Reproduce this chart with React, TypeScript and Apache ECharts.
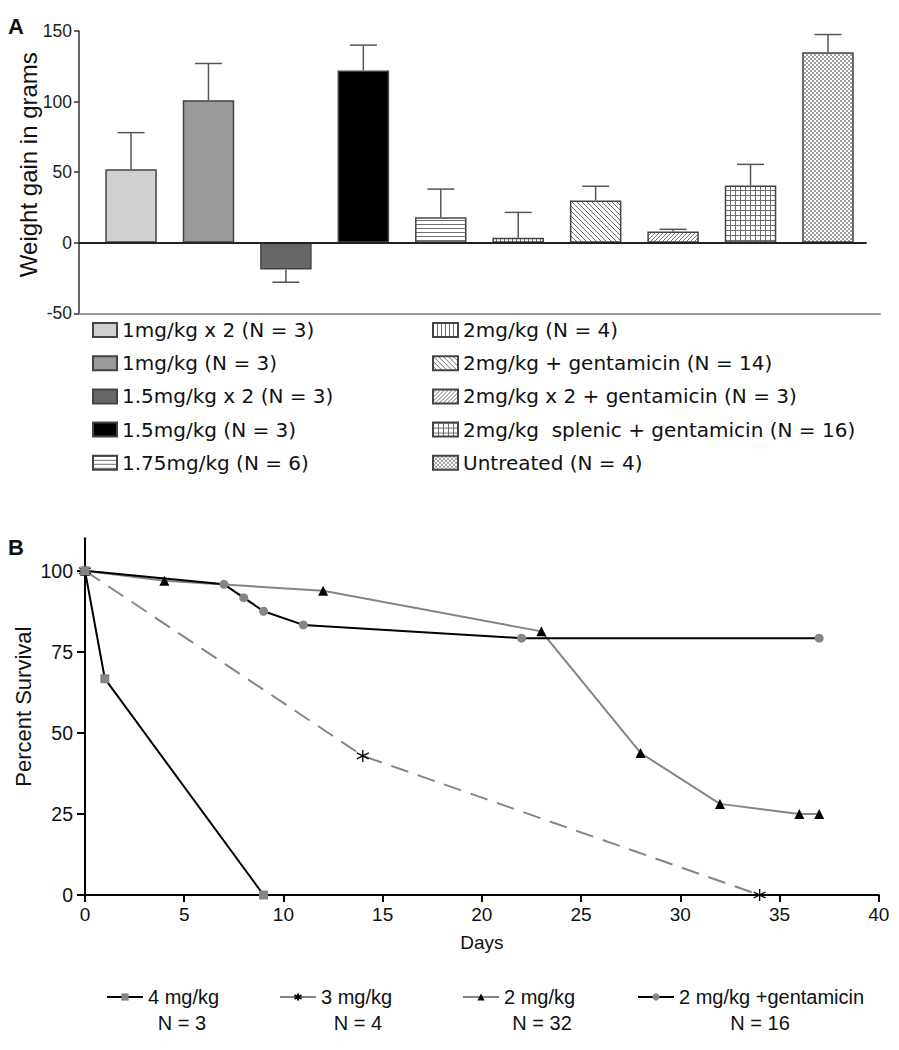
import React, { useEffect, useRef } from "react";
import * as echarts from "echarts";

// ---------- Panel A data ----------
const groupNames = [
  "1mg/kg x 2 (N = 3)",
  "1mg/kg (N = 3)",
  "1.5mg/kg x 2 (N = 3)",
  "1.5mg/kg (N = 3)",
  "1.75mg/kg (N = 6)",
  "2mg/kg (N = 4)",
  "2mg/kg + gentamicin (N = 14)",
  "2mg/kg x 2 + gentamicin (N = 3)",
  "2mg/kg  splenic + gentamicin (N = 16)",
  "Untreated (N = 4)",
];
const weightGain = [52, 101, -19, 122, 18, 3.5, 30, 8, 40.5, 135];
const weightErr = [26, 26, 9, 18, 20, 18, 10, 1.5, 15, 12.5];
const weightTicks = [-50, 0, 50, 100, 150];

// ---------- Panel B data ----------
const survNames = ["4 mg/kg", "3 mg/kg", "2 mg/kg", "2 mg/kg +gentamicin"];
const survN = ["N = 3", "N = 4", "N = 32", "N = 16"];
const days4 = [0, 1, 9];
const surv4 = [100, 66.7, 0];
const days3 = [0, 14, 34];
const surv3 = [100, 42.9, 0];
const days2 = [0, 4, 12, 23, 28, 32, 36, 37];
const surv2 = [100, 96.9, 93.8, 81.3, 43.8, 28.1, 25, 25];
const daysG = [0, 7, 8, 9, 11, 22, 37];
const survG = [100, 95.8, 91.7, 87.5, 83.3, 79.2, 79.2];
const survTicks = [0, 25, 50, 75, 100];

const FONT = "'Liberation Sans', Arial, Helvetica, sans-serif";
const LEG_FONT = "'DejaVu Sans', 'Liberation Sans', sans-serif";
const GRAY = "#858585";

function makePattern(size: number, draw: (ctx: CanvasRenderingContext2D, s: number) => void, ink = "#6e6e6e") {
  const c = document.createElement("canvas");
  c.width = size;
  c.height = size;
  const ctx = c.getContext("2d") as CanvasRenderingContext2D;
  ctx.fillStyle = "#ffffff";
  ctx.fillRect(0, 0, size, size);
  ctx.strokeStyle = ink;
  ctx.fillStyle = ink;
  ctx.lineWidth = 1;
  draw(ctx, size);
  return { image: c.toDataURL(), repeat: "repeat", imageWidth: size, imageHeight: size };
}

function line(ctx: CanvasRenderingContext2D, x1: number, y1: number, x2: number, y2: number) {
  ctx.beginPath();
  ctx.moveTo(x1, y1);
  ctx.lineTo(x2, y2);
  ctx.stroke();
}

export default function App() {
  const ref = useRef<HTMLDivElement>(null);

  useEffect(() => {
    if (!ref.current) return;
    const chart = echarts.init(ref.current, undefined, { renderer: "svg" });

    const fills: any[] = [
      "#d0d0d0",
      "#9a9a9a",
      "#676767",
      "#000000",
      makePattern(4, (ctx, s) => line(ctx, 0, 0.5, s, 0.5)),
      makePattern(4, (ctx, s) => line(ctx, 0.5, 0, 0.5, s)),
      makePattern(5, (ctx, s) => {
        line(ctx, -1, -1, s + 1, s + 1);
        line(ctx, -2, s - 2, 2, s + 2);
        line(ctx, s - 2, -2, s + 2, 2);
      }),
      makePattern(4, (ctx, s) => {
        line(ctx, -1, s + 1, s + 1, -1);
        line(ctx, -2, 2, 2, -2);
        line(ctx, s - 2, s + 2, s + 2, s - 2);
      }),
      makePattern(5, (ctx, s) => {
        line(ctx, 0, 0.5, s, 0.5);
        line(ctx, 0.5, 0, 0.5, s);
      }),
      makePattern(
        4,
        (ctx) => {
          ctx.fillRect(0, 0, 2, 2);
          ctx.fillRect(2, 2, 2, 2);
        },
        "#a0a0a0"
      ),
    ];

    const X_MIN = -0.672;
    const X_MAX = 9.672;
    const ZERO_END = 9.5;

    const barSeries: any[] = groupNames.map((name, i) => ({
      type: "bar",
      name,
      xAxisIndex: 0,
      yAxisIndex: 0,
      barWidth: 51.5,
      barGap: "-100%",
      data: [[i, weightGain[i]]],
      itemStyle: { color: fills[i], borderColor: "#444", borderWidth: 1.5 },
      z: 3,
      ...(i === 0
        ? {
            markLine: {
              silent: true,
              symbol: ["none", "none"],
              label: { show: false },
              lineStyle: { color: "#222", width: 2, type: "solid" },
              data: [[{ coord: [X_MIN, 0] }, { coord: [ZERO_END, 0] }]],
            },
          }
        : {}),
    }));

    const errSeries = {
      type: "custom",
      xAxisIndex: 0,
      yAxisIndex: 0,
      z: 4,
      data: weightGain.map((v, i) => [i, v, weightErr[i]]),
      renderItem: (params: any, api: any) => {
        const x = api.value(0);
        const v = api.value(1);
        const e = api.value(2);
        const end = v >= 0 ? v + e : v - e;
        const p0 = api.coord([x, v]);
        const p1 = api.coord([x, end]);
        const half = 13.5;
        const st = { stroke: "#555", lineWidth: 1.5 };
        return {
          type: "group",
          children: [
            { type: "line", shape: { x1: p0[0], y1: p0[1], x2: p1[0], y2: p1[1] }, style: st },
            { type: "line", shape: { x1: p1[0] - half, y1: p1[1], x2: p1[0] + half, y2: p1[1] }, style: st },
          ],
        };
      },
    };

    const zip = (xs: number[], ys: number[]) => xs.map((x, i) => [x, ys[i]]);
    const asterisk = "path://M5,0L5,10M0.67,2.5L9.33,7.5M0.67,7.5L9.33,2.5";

    const lineSeries: any[] = [
      {
        type: "line",
        name: survNames[2],
        xAxisIndex: 1,
        yAxisIndex: 1,
        data: zip(days2, surv2),
        symbol: "triangle",
        symbolSize: 10,
        lineStyle: { color: GRAY, width: 2 },
        itemStyle: { color: "#000" },
        z: 3,
      },
      {
        type: "line",
        name: survNames[3],
        xAxisIndex: 1,
        yAxisIndex: 1,
        data: zip(daysG, survG),
        symbol: "circle",
        symbolSize: 9,
        lineStyle: { color: "#000", width: 2 },
        itemStyle: { color: GRAY },
        z: 3,
      },
      {
        type: "line",
        name: survNames[1],
        xAxisIndex: 1,
        yAxisIndex: 1,
        data: zip(days3, surv3),
        symbol: asterisk,
        symbolSize: 12,
        lineStyle: { color: GRAY, width: 2, type: [18, 10] },
        itemStyle: { color: "#000", borderColor: "#000", borderWidth: 1.3 },
        z: 3,
      },
      {
        type: "line",
        name: survNames[0],
        xAxisIndex: 1,
        yAxisIndex: 1,
        data: zip(days4, surv4),
        symbol: "rect",
        symbolSize: 9,
        lineStyle: { color: "#000", width: 2 },
        itemStyle: { color: GRAY },
        z: 3,
      },
    ];

    const legendLeftB = [106, 279, 462, 637];
    const nCenterB = [182, 358, 542, 760];

    const legendsA = [
      {
        data: groupNames.slice(0, 5),
        left: 92,
        top: 320,
        itemWidth: 24,
      },
      {
        data: groupNames.slice(5),
        left: 432,
        top: 320,
        itemWidth: 25,
      },
    ].map((l) => ({
      ...l,
      orient: "vertical",
      itemHeight: 14,
      itemGap: 13.2,
      icon: "rect",
      selectedMode: false,
      padding: 0,
      textStyle: { fontFamily: LEG_FONT, fontSize: 20, color: "#111" },
    }));

    const legendsB = survNames.map((name, i) => ({
      data: [name],
      left: legendLeftB[i],
      top: 987,
      orient: "horizontal",
      itemWidth: 36,
      itemHeight: 9,
      selectedMode: false,
      padding: 0,
      lineStyle: { type: "solid", width: 2 },
      textStyle: { fontFamily: FONT, fontSize: 20, color: "#111" },
    }));

    const option: any = {
      animation: false,
      backgroundColor: "#fff",
      grid: [
        { left: 79, top: 31, width: 801, height: 282.3 },
        { left: 85, top: 538.3, width: 793.7, height: 356.7 },
      ],
      xAxis: [
        {
          gridIndex: 0,
          type: "value",
          min: X_MIN,
          max: X_MAX,
          axisLine: { show: true, onZero: false, lineStyle: { color: "#999", width: 2 } },
          axisTick: { show: false },
          axisLabel: { show: false },
          splitLine: { show: false },
        },
        {
          gridIndex: 1,
          type: "value",
          min: 0,
          max: 40,
          interval: 5,
          name: "Days",
          nameLocation: "middle",
          nameGap: 38,
          nameMoveOverlap: false,
          nameTextStyle: { fontFamily: FONT, fontSize: 19, color: "#111" },
          axisLine: { show: true, onZero: false, lineStyle: { color: "#000", width: 2 } },
          axisTick: { show: true, length: 7, lineStyle: { color: "#000", width: 2 } },
          axisLabel: { fontFamily: FONT, fontSize: 19, color: "#111", margin: 10 },
          splitLine: { show: false },
        },
      ],
      yAxis: [
        {
          gridIndex: 0,
          type: "value",
          min: -50,
          max: 150,
          interval: 50,
          name: "Weight gain in grams",
          nameLocation: "middle",
          nameRotate: 90,
          nameGap: 39,
          nameMoveOverlap: false,
          nameTextStyle: { fontFamily: FONT, fontSize: 24, color: "#111", padding: [0, 0, 0, 15] },
          axisLine: { show: true, onZero: false, lineStyle: { color: "#333", width: 1.5 } },
          axisTick: { show: true, length: 5, lineStyle: { color: "#333", width: 1.5 }, customValues: weightTicks },
          axisLabel: { fontFamily: FONT, fontSize: 17.5, color: "#222", margin: 7, customValues: weightTicks },
          splitLine: { show: false },
        },
        {
          gridIndex: 1,
          type: "value",
          min: 0,
          max: 110,
          name: "Percent Survival",
          nameLocation: "middle",
          nameRotate: 90,
          nameGap: 51,
          nameMoveOverlap: false,
          nameTextStyle: { fontFamily: FONT, fontSize: 22, color: "#111", padding: [0, 0, 0, 20] },
          axisLine: { show: true, onZero: false, lineStyle: { color: "#000", width: 2 } },
          axisTick: { show: true, length: 8, lineStyle: { color: "#000", width: 2 }, customValues: survTicks },
          axisLabel: { fontFamily: FONT, fontSize: 19.5, color: "#111", margin: 12, customValues: survTicks },
          splitLine: { show: false },
        },
      ],
      legend: [...legendsA, ...legendsB],
      graphic: [
        {
          type: "text",
          left: 8,
          top: 15,
          style: { text: "A", fontFamily: FONT, fontWeight: "bold", fontSize: 22, fill: "#111" },
        },
        {
          type: "text",
          left: 8,
          top: 536,
          style: { text: "B", fontFamily: FONT, fontWeight: "bold", fontSize: 22, fill: "#111" },
        },
        ...survN.map((t, i) => ({
          type: "text",
          x: nCenterB[i],
          y: 1023,
          style: {
            text: t,
            fontFamily: FONT,
            fontSize: 20,
            fill: "#111",
            align: "center",
            verticalAlign: "middle",
          },
        })),
      ],
      series: [...barSeries, errSeries, ...lineSeries],
    };

    chart.setOption(option);
    return () => chart.dispose();
  }, []);

  return (
    <div
      ref={ref}
      style={{ position: "absolute", left: 0, top: 0, width: 899, height: 1050, background: "#fff" }}
    />
  );
}
